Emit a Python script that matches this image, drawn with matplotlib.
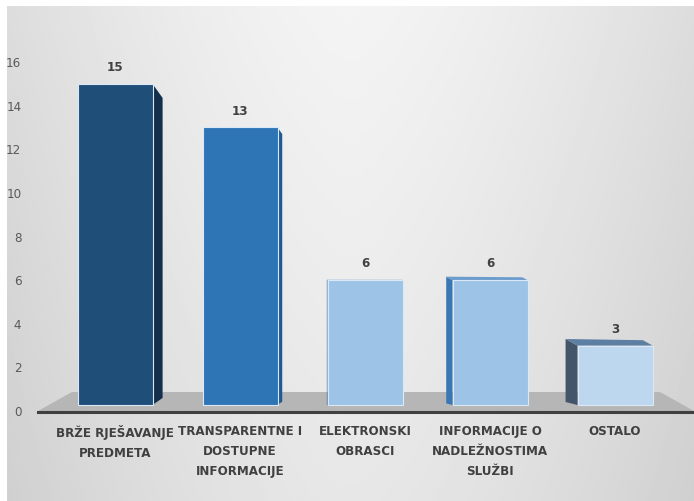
import numpy as np
import matplotlib
matplotlib.use("Agg")
import matplotlib.pyplot as plt
from matplotlib.patches import Polygon

categories = ["BRŽE RJEŠAVANJE\nPREDMETA", "TRANSPARENTNE I\nDOSTUPNE\nINFORMACIJE",
              "ELEKTRONSKI\nOBRASCI", "INFORMACIJE O\nNADLEŽNOSTIMA\nSLUŽBI", "OSTALO"]
values = [15, 13, 6, 6, 3]
yticks = [0, 2, 4, 6, 8, 10, 12, 14, 16]
front_colors = ["#1f4e79", "#2e75b6", "#9dc3e6", "#9dc3e6", "#bdd7ee"]
side_colors = ["#132f4c", "#1f5a93", "#3a78b5", "#3a78b5", "#44546a"]
top_colors = ["#2f5f8c", "#4a8ac6", "#6b9ccc", "#6b9ccc", "#5d7fa3"]

plt.rcParams['font.family'] = ['DejaVu Sans']
plt.rcParams['font.stretch'] = 'condensed'

W, H = 694, 501
fig = plt.figure(figsize=(W / 100, H / 100), dpi=100)
fig.patch.set_facecolor("white")

# background panel with gradient
bg = fig.add_axes([7 / W, 0, (W - 7) / W, (H - 6) / H])
xs = np.linspace(-1, 1, 300)
ys = np.linspace(0, 1, 200)
X, Y = np.meshgrid(xs, ys)
grad = 0.955 - 0.09 * np.abs(X) ** 1.5 - 0.05 * Y
bg.imshow(grad, cmap="gray", vmin=0, vmax=1, aspect="auto", extent=[0, 1, 0, 1])
bg.axis("off")

# main axes: x pixels 38..694, y pixels 62 (16) .. 411 (0)
ax = fig.add_axes([38 / W, (H - 411) / H, (W - 38) / W, (411 - 62) / H])
ax.patch.set_alpha(0)
xl, xr = (38 - 115) / 125, (694 - 115) / 125
ax.set_xlim(xl, xr)
ax.set_ylim(0, 16)
upp = 16 / (411 - 62)  # units per pixel (y)
xpp = 1 / 125          # units per pixel (x)

# floor
floor = Polygon([(xl, 0), (xr, 0), ((660 - 115) * xpp, 19 * upp), ((72 - 115) * xpp, 19 * upp)],
                closed=True, facecolor="#b6b6b6", edgecolor="none", zorder=1)
ax.add_patch(floor)

x = np.arange(len(values))
bw = 0.6
base = 6 * upp
bars = ax.bar(x, np.array(values) - base, bottom=base, width=bw, color=front_colors,
              edgecolor="#dbe9f7", linewidth=0.8, zorder=3)

vp = (350 - 115) * xpp  # vanishing x
for i, b in enumerate(bars):
    left = b.get_x()
    right = left + b.get_width()
    top = b.get_y() + b.get_height()
    bot = b.get_y()
    if x[i] < vp:
        edge = right
        d = (vp - x[i]) * 0.043
        dpx = d / xpp
        pts = [(edge, top), (edge + d, top - 1.4 * dpx * upp), (edge + d, bot + 0.7 * dpx * upp), (edge, bot)]
        ax.add_patch(Polygon(pts, closed=True, facecolor=side_colors[i], edgecolor="none", zorder=2.9))
    else:
        edge = left
        d = (x[i] - vp) * 0.045
        dpx = d / xpp
        pts = [(edge, top), (edge - d, top + 0.55 * dpx * upp), (edge - d, bot + 0.25 * dpx * upp), (edge, bot)]
        ax.add_patch(Polygon(pts, closed=True, facecolor=side_colors[i], edgecolor="none", zorder=2.9))
        tpts = [(left, top), (right, top), (right - 0.8 * d, top + 0.45 * dpx * upp),
                (left - d, top + 0.55 * dpx * upp)]
        ax.add_patch(Polygon(tpts, closed=True, facecolor=top_colors[i], edgecolor="none", zorder=2.9))
    ax.text(x[i], values[i] + 0.45, str(values[i]), ha="center", va="bottom",
            fontsize=9.5, fontweight="bold", color="#404040", zorder=5)

# baseline
ax.axhline(-0.05, color="#404040", linewidth=2.2, zorder=4, clip_on=False)

ax.set_yticks(yticks)
ax.set_yticklabels([str(t) for t in yticks], fontsize=9.5, color="#595959")
ax.tick_params(axis="y", length=0, pad=12)
ax.set_xticks(x)
ax.set_xticklabels(categories, fontsize=9.5, fontweight="bold", color="#404040", linespacing=1.7)
ax.tick_params(axis="x", length=0, pad=10)
for s in ax.spines.values():
    s.set_visible(False)

fig.savefig("out.png", dpi=100)
